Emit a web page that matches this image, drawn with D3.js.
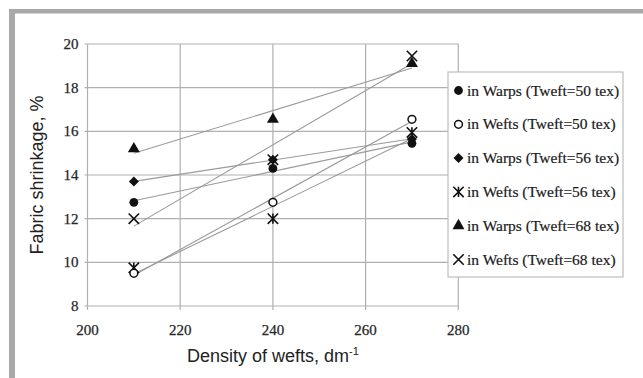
<!DOCTYPE html>
<html>
<head>
<meta charset="utf-8">
<script src="https://cdn.jsdelivr.net/npm/d3@7"></script>
<style>
  body { margin: 0; background: #fff; }
  svg { display: block; }
</style>
</head>
<body>
<div id="chart"></div>
<script>
// chart data
var density = [210, 240, 270]
var warps50 = [12.75, 14.3, 15.45]
var wefts50 = [9.5, 12.75, 16.55]
var warps56 = [13.7, 14.7, 15.65]
var wefts56 = [9.75, 12.0, 15.95]
var warps68 = [15.2, 16.55, 19.1]
var wefts68 = [12.0, 14.7, 19.45]
var seriesNames = ["in Warps (Tweft=50 tex)", "in Wefts (Tweft=50 tex)",
                   "in Warps (Tweft=56 tex)", "in Wefts (Tweft=56 tex)",
                   "in Warps (Tweft=68 tex)", "in Wefts (Tweft=68 tex)"]
var xTicks = [200, 220, 240, 260, 280]
var yTicks = [8, 10, 12, 14, 16, 18, 20]

var allSeries = [warps50, wefts50, warps56, wefts56, warps68, wefts68]
var markers = ["dot", "ring", "diamond", "star", "triangle", "cross"]

var width = 643,
    height = 378

var svg = d3.select("#chart").append("svg")
    .attr("width", width)
    .attr("height", height)

// grey frame (top and left bands)
svg.append("rect").attr("x", 9).attr("y", 9).attr("width", width - 9).attr("height", 4.5).attr("fill", "#a9a9a9")
svg.append("rect").attr("x", 9).attr("y", 9).attr("width", 6).attr("height", height - 9).attr("fill", "#a9a9a9")

var x = d3.scaleLinear().domain([200, 280]).range([87.5, 458.3])
var y = d3.scaleLinear().domain([8, 20]).range([306, 44])

var gridColor = "#b0b0b0"

// horizontal grid + y ticks
svg.selectAll(".hgrid").data(yTicks).enter().append("line")
    .attr("x1", x(200) - 3).attr("x2", x(280))
    .attr("y1", function(d) { return y(d) }).attr("y2", function(d) { return y(d) })
    .attr("stroke", gridColor).attr("stroke-width", 1.2)

// vertical grid + x ticks
svg.selectAll(".vgrid").data(xTicks).enter().append("line")
    .attr("x1", function(d) { return x(d) }).attr("x2", function(d) { return x(d) })
    .attr("y1", y(20)).attr("y2", y(8) + 4)
    .attr("stroke", gridColor).attr("stroke-width", 1.2)

// tick labels
svg.selectAll(".ylab").data(yTicks).enter().append("text")
    .attr("x", 78.5).attr("y", function(d) { return y(d) + 5 })
    .attr("text-anchor", "end")
    .attr("font-family", "Liberation Serif, serif").attr("font-size", 15)
    .attr("fill", "#262626").attr("stroke", "#262626").attr("stroke-width", 0.25)
    .text(function(d) { return d })

svg.selectAll(".xlab").data(xTicks).enter().append("text")
    .attr("x", function(d) { return x(d) }).attr("y", 335)
    .attr("text-anchor", "middle")
    .attr("font-family", "Liberation Serif, serif").attr("font-size", 15)
    .attr("fill", "#262626").attr("stroke", "#262626").attr("stroke-width", 0.25)
    .text(function(d) { return d })

// axis titles
var xt = svg.append("text")
    .attr("x", (x(200) + x(280)) / 2).attr("y", 362)
    .attr("text-anchor", "middle")
    .attr("font-family", "Liberation Sans, Arial, sans-serif").attr("font-size", 18)
    .attr("fill", "#222")
xt.append("tspan").text("Density of wefts, dm")
xt.append("tspan").attr("dy", -7).attr("font-size", 11).text("-1")

svg.append("text")
    .attr("transform", "translate(43," + (y(8) + y(20)) / 2 + ") rotate(-90)")
    .attr("text-anchor", "middle")
    .attr("font-family", "Liberation Sans, Arial, sans-serif").attr("font-size", 18)
    .attr("fill", "#222")
    .text("Fabric shrinkage, %")

// linear trend lines for each series
function trend(vals) {
  var mx = d3.mean(density), my = d3.mean(vals)
  var num = d3.sum(density, function(d, i) { return (d - mx) * (vals[i] - my) })
  var den = d3.sum(density, function(d) { return (d - mx) * (d - mx) })
  var b = num / den
  return function(v) { return my + b * (v - mx) }
}

allSeries.forEach(function(vals) {
  var f = trend(vals)
  svg.append("line")
    .attr("x1", x(density[0])).attr("y1", y(f(density[0])))
    .attr("x2", x(density[2])).attr("y2", y(f(density[2])))
    .attr("stroke", "#9a9a9a").attr("stroke-width", 1.1)
})

// marker drawing
function drawMarker(g, kind, cx, cy) {
  if (kind == "dot") {
    g.append("circle").attr("cx", cx).attr("cy", cy).attr("r", 4.4).attr("fill", "#111")
  } else if (kind == "ring") {
    g.append("circle").attr("cx", cx).attr("cy", cy).attr("r", 3.9)
      .attr("fill", "#fff").attr("stroke", "#111").attr("stroke-width", 1.5)
  } else if (kind == "diamond") {
    g.append("path").attr("d", d3.symbol().type(d3.symbolSquare).size(50))
      .attr("transform", "translate(" + cx + "," + cy + ") rotate(45)")
      .attr("fill", "#111")
  } else if (kind == "triangle") {
    g.append("path").attr("d", d3.symbol().type(d3.symbolTriangle).size(62))
      .attr("transform", "translate(" + cx + "," + cy + ")")
      .attr("fill", "#111")
  } else if (kind == "cross" || kind == "star") {
    var s = 5.2
    var p = d3.path()
    p.moveTo(cx - s, cy - s); p.lineTo(cx + s, cy + s)
    p.moveTo(cx - s, cy + s); p.lineTo(cx + s, cy - s)
    if (kind == "star") { p.moveTo(cx, cy - s); p.lineTo(cx, cy + s) }
    g.append("path").attr("d", p.toString())
      .attr("stroke", "#111").attr("stroke-width", 1.6).attr("fill", "none")
  }
}

// draw the last series first so the crosses sit under the diamonds
var pts = svg.append("g")
allSeries.slice().reverse().forEach(function(vals, r) {
  var k = allSeries.length - 1 - r
  vals.forEach(function(v, i) {
    drawMarker(pts, markers[k], x(density[i]), y(v))
  })
})

// legend
var legend = svg.append("g")
legend.append("rect")
    .attr("x", 448).attr("y", 72).attr("width", 175).attr("height", 205)
    .attr("fill", "#fff").attr("stroke", "#bdbdbd").attr("stroke-width", 1.2)

seriesNames.forEach(function(name, i) {
  var cy = 90.5 + i * 33.8
  drawMarker(legend, markers[i], 458.5, cy)
  legend.append("text")
    .attr("x", 467).attr("y", cy + 5)
    .attr("font-family", "Liberation Serif, serif").attr("font-size", 15.5)
    .attr("fill", "#1a1a1a").attr("stroke", "#1a1a1a").attr("stroke-width", 0.2)
    .text(name)
})
</script>
</body>
</html>
